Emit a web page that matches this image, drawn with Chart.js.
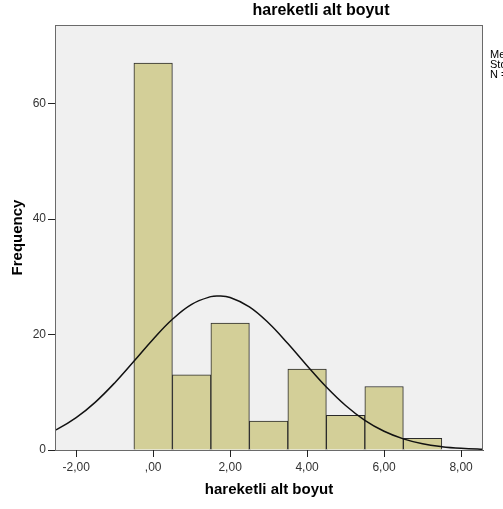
<!DOCTYPE html>
<html>
<head>
<meta charset="utf-8">
<script src="https://cdn.jsdelivr.net/npm/chart.js@4/dist/chart.umd.min.js"></script>
<style>
  html, body { margin: 0; padding: 0; background: #fff; }
  #wrap { width: 503px; height: 509px; }
</style>
</head>
<body>
<div id="wrap"><canvas id="hist"></canvas></div>
<script>
// histogram bins (centres) and counts
const binCenters = [0, 1, 2, 3, 4, 5, 6, 7];
const binCounts  = [67, 13, 22, 5, 14, 6, 11, 2];

// normal curve
const curveX = [-3, -2.5, -2, -1.5, -1, -0.5, 0, 0.5, 1, 1.5, 1.7, 2, 2.5, 3, 3.5, 4, 4.5, 5, 5.5, 6, 6.5, 7, 7.5, 8, 8.5, 9];
const curveY = [2.15, 3.57, 5.6, 8.3, 11.62, 15.37, 19.19, 22.64, 25.23, 26.56, 26.68, 26.41, 24.8, 22.0, 18.44, 14.6, 10.91, 7.71, 5.14, 3.24, 1.93, 1.08, 0.58, 0.29, 0.14, 0.06];

const xTicks = [-2, 0, 2, 4, 6, 8];
const yTicks = [0, 20, 40, 60];
const statsLines = ['Mean = 1,70', 'Std. Dev. = 2,094', 'N = 140'];

const FONT = "'Liberation Sans', Arial, sans-serif";

function fmtComma(v) {
  // SPSS style: 2,00  ,00  -2,00
  let s = Math.abs(v).toFixed(2).replace('.', ',');
  if (s.startsWith('0,')) s = s.slice(1);
  return (v < 0 ? '-' : '') + s;
}

const frame = {
  id: 'frame',
  beforeDraw(chart) {
    const { ctx, chartArea: a } = chart;
    ctx.save();
    ctx.fillStyle = '#f0f0f0';
    ctx.fillRect(a.left, a.top, a.right - a.left, a.bottom - a.top);
    ctx.restore();
  },
  afterDraw(chart) {
    const { ctx, chartArea: a } = chart;
    const xs = chart.scales.x;
    ctx.save();
    ctx.strokeStyle = '#6a6a6a';
    ctx.lineWidth = 1;
    ctx.strokeRect(a.left + 0.5, a.top + 0.5, a.right - a.left - 1, a.bottom - a.top);
    // x tick marks below the axis
    ctx.strokeStyle = '#222';
    ctx.beginPath();
    xTicks.forEach(v => {
      const px = Math.round(xs.getPixelForValue(v)) + 0.5;
      ctx.moveTo(px, a.bottom);
      ctx.lineTo(px, a.bottom + 7);
    });
    ctx.stroke();
    // chart title
    ctx.fillStyle = '#000';
    ctx.font = 'bold 16px ' + FONT;
    ctx.textAlign = 'center';
    ctx.textBaseline = 'middle';
    ctx.fillText('hareketli alt boyut', 321, 11);
    // stats box, cut by the right edge
    ctx.font = '11px ' + FONT;
    ctx.textAlign = 'left';
    statsLines.forEach((t, i) => ctx.fillText(t, 490, 55 + i * 10));
    ctx.restore();
  }
};

new Chart(document.getElementById('hist'), {
  type: 'bar',
  data: {
    datasets: [
      {
        type: 'line',
        data: curveX.map((x, i) => ({ x, y: curveY[i] })),
        borderColor: '#111',
        borderWidth: 1.5,
        pointRadius: 0,
        tension: 0.4,
        fill: false,
        order: 0
      },
      {
        type: 'bar',
        data: binCenters.map((x, i) => ({ x, y: binCounts[i] })),
        backgroundColor: '#d3cf98',
        borderColor: '#2a2a2a',
        borderWidth: 1,
        barPercentage: 1,
        categoryPercentage: 1,
        order: 1
      }
    ]
  },
  options: {
    responsive: true,
    maintainAspectRatio: false,
    animation: false,
    layout: { padding: { top: 25, right: 20, left: 0, bottom: 0 } },
    plugins: { legend: { display: false }, tooltip: { enabled: false } },
    scales: {
      x: {
        type: 'linear',
        min: -2.55, max: 8.57,
        offset: false,
        afterFit: s => { s.height = 59; },
        afterBuildTicks: s => { s.ticks = xTicks.map(v => ({ value: v })); },
        border: { display: true, color: '#555' },
        grid: { display: false },
        ticks: { color: '#333', font: { family: FONT, size: 12 }, padding: 2, maxRotation: 0, callback: v => fmtComma(v) },
        title: { display: true, text: 'hareketli alt boyut', color: '#000', font: { family: FONT, size: 15, weight: 'bold' }, padding: { top: 0, bottom: 10 } }
      },
      y: {
        type: 'linear',
        min: 0, max: 73.6,
        afterFit: s => { s.width = 55; },
        afterBuildTicks: s => { s.ticks = yTicks.map(v => ({ value: v })); },
        border: { display: true, color: '#555' },
        grid: { drawOnChartArea: false, drawTicks: true, tickLength: 7, color: '#222', lineWidth: 1 },
        ticks: { color: '#333', font: { family: FONT, size: 12 }, padding: 2 },
        title: { display: true, text: 'Frequency', color: '#000', font: { family: FONT, size: 15, weight: 'bold' }, padding: { top: 9 } }
      }
    }
  },
  plugins: [frame]
});
</script>
</body>
</html>
